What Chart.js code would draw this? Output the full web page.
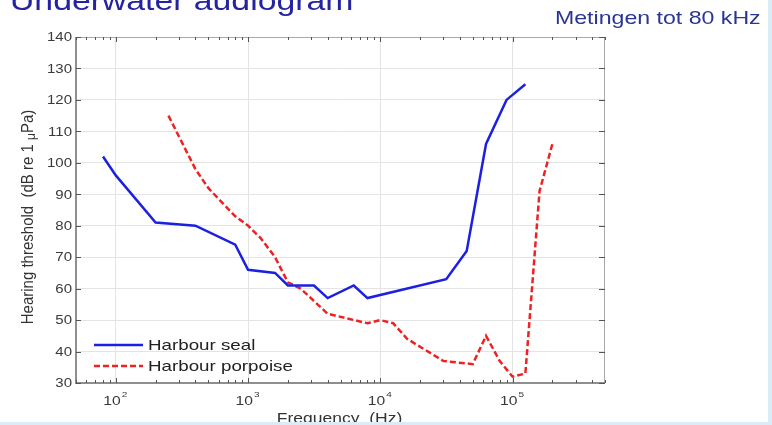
<!DOCTYPE html>
<html>
<head>
<meta charset="utf-8">
<script src="https://cdn.jsdelivr.net/npm/chart.js@4"></script>
<style>
  html, body { margin: 0; padding: 0; background: #ffffff; }
  #wrap {
    width: 768px; height: 422px;
    border-right: 4px solid #d9ecf8; border-bottom: 3px solid #d9ecf8;
    position: relative; overflow: hidden;
  }
  canvas { display: block; }
</style>
</head>
<body>
<div id="wrap"><canvas id="audiogram" width="768" height="422"></canvas></div>
<script>
// Hearing thresholds (dB re 1 uPa) against frequency (Hz)
const sealFreq = [80, 100, 200, 400, 800, 1000, 1600, 2000, 3150, 4000, 6300, 8000, 31500, 45000, 63000, 90000, 125000];
const sealThr  = [102, 96, 81, 80, 74, 66, 65, 61, 61, 57, 61, 57, 63, 72, 106, 120, 125];

const porpoiseFreq = [250, 400, 500, 800, 1000, 1250, 1600, 2000, 2500, 4000, 8000, 10000, 12500, 16000, 30000, 50000, 63000, 80000, 100000, 125000, 160000, 200000];
const porpoiseThr  = [115, 98, 92, 83, 80, 76, 70, 62, 60, 52, 49, 50, 49, 44, 37, 36, 45, 37, 32, 33, 91, 106];

const seriesNames = ['Harbour seal', 'Harbour porpoise'];
const decadeTicks = [100, 1000, 10000, 100000];
const decadeExp = ['2', '3', '4', '5'];
const yTicks = [30, 40, 50, 60, 70, 80, 90, 100, 110, 120, 130, 140];

const SX = 1.25; // text in this figure is drawn a bit wide
const FONT = '"Liberation Sans", Arial, sans-serif';

function wideText(ctx, txt, x, y, align) {
  ctx.save();
  ctx.translate(x, y);
  ctx.scale(SX, 1);
  ctx.textAlign = align || 'left';
  ctx.fillText(txt, 0, 0);
  ctx.restore();
}

const toXY = (xs, ys) => xs.map((f, i) => ({ x: f, y: ys[i] }));

// frame, ticks, labels, legend and page headings
const decorPlugin = {
  id: 'decor',
  afterDraw(chart) {
    const { ctx, chartArea: a, scales } = chart;
    const xs = scales.x, ys = scales.y;

    // box
    ctx.save();
    ctx.strokeStyle = '#a9a9a9';
    ctx.lineWidth = 1;
    ctx.beginPath();
    ctx.moveTo(a.left, a.top + 0.5); ctx.lineTo(a.right, a.top + 0.5);
    ctx.moveTo(a.right - 0.5, a.top); ctx.lineTo(a.right - 0.5, a.bottom);
    ctx.stroke();
    ctx.strokeStyle = '#8f8f8f';
    ctx.lineWidth = 2;
    ctx.beginPath();
    ctx.moveTo(a.left, a.top); ctx.lineTo(a.left, a.bottom);
    ctx.lineTo(a.right, a.bottom);
    ctx.stroke();

    // x ticks (major + minor), bottom and top, pointing inward
    ctx.strokeStyle = '#555';
    ctx.lineWidth = 1;
    ctx.beginPath();
    for (let e = 1; e <= 5; e++) {
      for (let m = 1; m <= 9; m++) {
        const v = m * Math.pow(10, e);
        if (v < xs.min || v > xs.max) continue;
        const px = Math.round(xs.getPixelForValue(v)) + 0.5;
        const len = m === 1 ? 5 : 3;
        ctx.moveTo(px, a.bottom); ctx.lineTo(px, a.bottom - len);
        ctx.moveTo(px, a.top); ctx.lineTo(px, a.top + len);
      }
    }
    // y ticks left and right
    yTicks.forEach(v => {
      const py = Math.round(ys.getPixelForValue(v)) + 0.5;
      ctx.moveTo(a.left, py); ctx.lineTo(a.left + 5, py);
      ctx.moveTo(a.right, py); ctx.lineTo(a.right - 6, py);
    });
    ctx.stroke();

    // y tick labels
    ctx.fillStyle = '#3a3a3a';
    ctx.font = '12px ' + FONT;
    ctx.textBaseline = 'middle';
    yTicks.forEach(v => {
      wideText(ctx, String(v), a.left - 4, ys.getPixelForValue(v) + 1, 'right');
    });

    // x tick labels: 10 with a raised exponent
    ctx.textBaseline = 'alphabetic';
    decadeTicks.forEach((v, i) => {
      const px = xs.getPixelForValue(v);
      ctx.font = '12.5px ' + FONT;
      const wBase = ctx.measureText('10').width * SX;
      ctx.font = '8px ' + FONT;
      const wExp = ctx.measureText(decadeExp[i]).width * SX;
      const x0 = px - (wBase + wExp) / 2 - 1;
      ctx.font = '12.5px ' + FONT;
      wideText(ctx, '10', x0, a.bottom + 22, 'left');
      ctx.font = '8px ' + FONT;
      wideText(ctx, decadeExp[i], x0 + wBase + 1, a.bottom + 14, 'left');
    });

    // axis titles
    ctx.font = '14px ' + FONT;
    ctx.fillStyle = '#333';
    wideText(ctx, 'Frequency  (Hz)', (a.left + a.right) / 2 - 1, 423, 'center');

    ctx.save();
    ctx.translate(33, 217);
    ctx.rotate(-Math.PI / 2);
    const big = '15px ' + FONT, small = '12px ' + FONT;
    ctx.textAlign = 'left';
    ctx.textBaseline = 'alphabetic';
    const p1 = 'Hearing threshold  (dB re 1 ';
    const p2 = 'μ';
    const p3 = 'Pa)';
    ctx.font = big;
    const w1 = ctx.measureText(p1).width;
    const w3 = ctx.measureText(p3).width;
    ctx.font = small;
    const w2 = ctx.measureText(p2).width;
    const x0 = -(w1 + w2 + w3) / 2;
    ctx.scale(1, 1.12);
    ctx.font = big;
    ctx.fillText(p1, x0, 0);
    ctx.fillText(p3, x0 + w1 + w2, 0);
    ctx.font = small;
    ctx.fillText(p2, x0 + w1, 2);
    ctx.restore();

    // legend
    const rows = [345, 366];
    chart.data.datasets.forEach((ds, i) => {
      ctx.save();
      ctx.strokeStyle = ds.borderColor;
      ctx.lineWidth = ds.borderWidth;
      ctx.setLineDash(ds.borderDash || []);
      ctx.beginPath();
      ctx.moveTo(94, rows[i]); ctx.lineTo(143, rows[i]);
      ctx.stroke();
      ctx.restore();
      ctx.fillStyle = '#222';
      ctx.font = '15px ' + FONT;
      ctx.textBaseline = 'middle';
      wideText(ctx, ds.label, 148, rows[i] + 1, 'left');
    });

    // page headings
    ctx.textBaseline = 'alphabetic';
    ctx.fillStyle = '#2424a0';
    ctx.font = '27px ' + FONT;
    wideText(ctx, 'Underwater audiogram', 10, 10, 'left');
    ctx.fillStyle = '#2b3592';
    ctx.font = '18.5px ' + FONT;
    wideText(ctx, 'Metingen tot 80 kHz', 555, 24, 'left');
    ctx.restore();
  }
};

new Chart(document.getElementById('audiogram'), {
  type: 'line',
  data: {
    datasets: [
      {
        label: seriesNames[0],
        data: toXY(sealFreq, sealThr),
        borderColor: '#1c20e0',
        borderWidth: 2.5,
        pointRadius: 0,
        tension: 0,
        fill: false
      },
      {
        label: seriesNames[1],
        data: toXY(porpoiseFreq, porpoiseThr),
        borderColor: '#ee2222',
        borderWidth: 2.5,
        borderDash: [6, 3],
        pointRadius: 0,
        tension: 0,
        fill: false
      }
    ]
  },
  options: {
    responsive: false,
    animation: false,
    layout: { padding: { left: 76, top: 37, right: 163, bottom: 39 } },
    plugins: { legend: { display: false }, tooltip: { enabled: false } },
    scales: {
      x: {
        type: 'logarithmic',
        min: 50,
        max: 500000,
        afterBuildTicks: (scale) => { scale.ticks = decadeTicks.map(v => ({ value: v })); },
        ticks: { display: false },
        grid: { color: '#e4e4e4', drawTicks: false },
        border: { display: false }
      },
      y: {
        type: 'linear',
        min: 30,
        max: 140,
        ticks: { display: false, stepSize: 10 },
        grid: { color: '#e4e4e4', drawTicks: false },
        border: { display: false }
      }
    }
  },
  plugins: [decorPlugin]
});
</script>
</body>
</html>
